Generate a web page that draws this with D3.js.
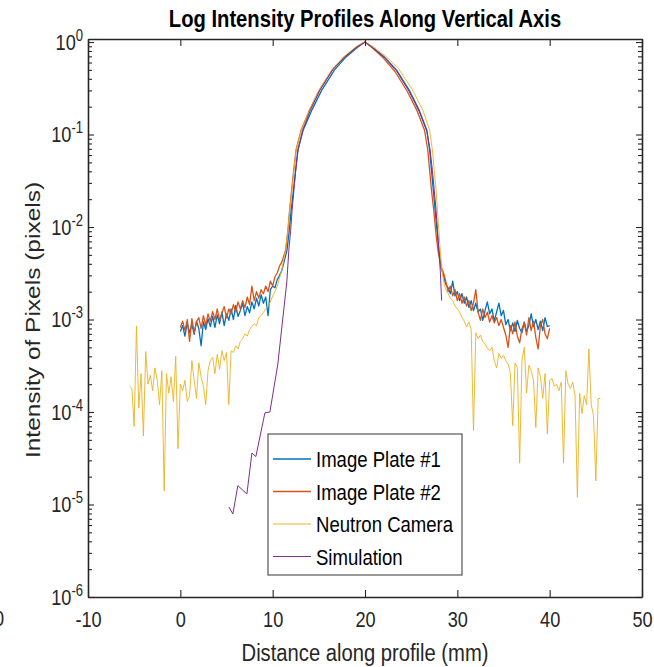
<!DOCTYPE html>
<html>
<head>
<meta charset="utf-8">
<script src="https://cdn.jsdelivr.net/npm/d3@7"></script>
<style>
  body { margin: 0; background: #fff; }
  svg { display: block; font-family: "Liberation Sans", Arial, sans-serif; }
</style>
</head>
<body>
<div id="chart"></div>
<script>
// ---- data ----
const seriesNames = ["Image Plate #1", "Image Plate #2", "Neutron Camera", "Simulation"];
const seriesColors = ["#0072BD", "#D95319", "#EDB120", "#7E2F8E"];

const xTicks = [-10, 0, 10, 20, 30, 40, 50];
const yMajor = [1e-6, 1e-5, 1e-4, 1e-3, 1e-2, 1e-1, 1];

// tails are sampled every 0.25 mm from their start
const tailStep = 0.25;
const ipLeftStart = 0, ipRightStart = 28.5;
const ncLeftStart = -5.5, ncRightStart = 28.5;

const ip1Left = [7.4e-4, 8.6e-4, 6.6e-4, 9.2e-4, 7.2e-4, 8.8e-4, 6.9e-4, 9.6e-4, 8.0e-4, 5.2e-4,
  9.4e-4, 7.8e-4, 1.02e-3, 8.4e-4, 1.08e-3, 8.2e-4, 1.12e-3, 9.0e-4, 1.2e-3, 8.6e-4,
  1.15e-3, 9.8e-4, 1.3e-3, 1.0e-3, 1.42e-3, 1.08e-3, 1.25e-3, 1.5e-3, 1.1e-3, 1.38e-3,
  1.18e-3, 1.55e-3, 1.3e-3, 1.7e-3, 1.4e-3, 1.85e-3, 1.5e-3, 1.75e-3, 1.1e-3, 2.1e-3,
  2.3e-3, 2.2e-3, 2.7e-3, 3.0e-3, 3.4e-3];
const ip1Peak = [[11.55, 5.6e-3], [11.8, 9.2e-3], [12.0, 0.015], [12.25, 0.025], [12.48, 0.041],
  [12.73, 0.068], [13.3, 0.111], [14.2, 0.18], [15.3, 0.30], [16.7, 0.50], [17.95, 0.69],
  [19.2, 0.88], [20.0, 1.0], [20.8, 0.88], [22.1, 0.69], [23.4, 0.50], [24.8, 0.30],
  [25.9, 0.18], [26.7, 0.111], [27.0, 0.068], [27.2, 0.041], [27.4, 0.025], [27.6, 0.015],
  [27.8, 9.2e-3], [28.0, 5.6e-3], [28.25, 3.6e-3]];
const ip1Right = [3.0e-3, 2.4e-3, 2.2e-3, 1.9e-3, 2.6e-3, 1.8e-3, 2.0e-3, 1.6e-3, 1.9e-3, 1.5e-3,
  1.75e-3, 1.35e-3, 1.6e-3, 1.25e-3, 1.5e-3, 1.2e-3, 1.3e-3, 9.8e-4, 1.25e-3, 1.55e-3,
  1.15e-3, 1.3e-3, 9.6e-4, 1.2e-3, 1.5e-3, 1.1e-3, 1.25e-3, 8.8e-4, 1.0e-3, 7.6e-4,
  9.2e-4, 7.4e-4, 9.8e-4, 8.0e-4, 7.2e-4, 9.4e-4, 7.4e-4, 8.6e-4, 1.15e-3, 8.4e-4,
  1.0e-3, 7.8e-4, 9.6e-4, 7.6e-4, 1.05e-3, 8.4e-4, 8.6e-4];

const ip2Left = [8.2e-4, 9.6e-4, 7.6e-4, 1.0e-3, 5.8e-4, 1.02e-3, 7.2e-4, 9.4e-4, 1.05e-3, 8.0e-4,
  1.1e-3, 8.6e-4, 1.15e-3, 9.6e-4, 1.22e-3, 1.0e-3, 1.3e-3, 9.8e-4, 1.18e-3, 1.38e-3,
  1.05e-3, 1.3e-3, 1.15e-3, 1.45e-3, 1.2e-3, 1.55e-3, 1.3e-3, 1.6e-3, 1.35e-3, 1.75e-3,
  1.45e-3, 2.3e-3, 1.6e-3, 2.0e-3, 1.7e-3, 2.1e-3, 1.9e-3, 2.3e-3, 2.0e-3, 2.6e-3,
  2.3e-3, 2.9e-3, 3.2e-3, 3.8e-3, 4.2e-3];
const ip2Peak = [[11.4, 5.6e-3], [11.65, 9.2e-3], [11.83, 0.015], [12.05, 0.025], [12.28, 0.041],
  [12.53, 0.068], [13.08, 0.111], [13.95, 0.18], [15.05, 0.30], [16.45, 0.50], [17.75, 0.69],
  [19.05, 0.88], [20.0, 1.0], [20.75, 0.87], [22.0, 0.67], [23.25, 0.48], [24.6, 0.29],
  [25.65, 0.18], [26.45, 0.111], [26.8, 0.068], [27.0, 0.041], [27.2, 0.025], [27.45, 0.015],
  [27.65, 9.2e-3], [27.9, 5.6e-3], [28.2, 3.8e-3]];
const ip2Right = [3.2e-3, 2.6e-3, 2.0e-3, 2.3e-3, 1.8e-3, 2.1e-3, 1.6e-3, 1.9e-3, 1.5e-3, 1.75e-3,
  1.4e-3, 1.6e-3, 1.25e-3, 1.5e-3, 2.1e-3, 1.2e-3, 9.8e-4, 1.3e-3, 1.05e-3, 1.2e-3,
  9.4e-4, 1.1e-3, 9.2e-4, 1.05e-3, 8.6e-4, 1.0e-3, 8.2e-4, 6.8e-4, 5.0e-4, 8.6e-4,
  7.0e-4, 9.4e-4, 6.6e-4, 5.6e-4, 8.0e-4, 9.2e-4, 6.8e-4, 1.05e-3, 7.6e-4, 9.6e-4,
  6.4e-4, 4.8e-4, 8.6e-4, 1.0e-3, 7.0e-4, 6.2e-4, 8.0e-4];

const ncLeft = [1.9e-4, 1.8e-4, 7.0e-5, 8.5e-4, 1.1e-4, 2.6e-4, 5.5e-5, 4.5e-4, 2.0e-4, 2.5e-4,
  1.7e-4, 3.0e-4, 2.2e-4, 1.2e-4, 2.8e-4, 1.4e-5, 2.6e-4, 1.6e-4, 2.4e-4, 1.3e-4,
  4.0e-4, 4.0e-5, 2.0e-4, 1.7e-4, 2.2e-4, 1.3e-4, 1.5e-4, 3.6e-4, 2.2e-4, 1.4e-4,
  3.4e-4, 2.4e-4, 1.9e-4, 1.2e-4, 2.8e-4, 3.6e-4, 3.9e-4, 2.6e-4, 4.2e-4, 2.9e-4,
  4.6e-4, 3.6e-4, 4.4e-4, 1.2e-4, 4.6e-4, 4.4e-4, 5.2e-4, 4.8e-4, 5.8e-4, 6.2e-4,
  7.0e-4, 6.6e-4, 7.8e-4, 8.4e-4, 9.0e-4, 8.6e-4, 1.05e-3, 1.1e-3, 1.2e-3, 1.3e-3,
  1.4e-3, 1.55e-3, 1.8e-3, 2.0e-3, 2.3e-3, 2.8e-3, 3.5e-3];
const ncPeak = [[11.4, 5.6e-3], [11.65, 9.2e-3], [11.84, 0.015], [12.08, 0.025], [12.3, 0.041],
  [12.55, 0.068], [13.1, 0.111], [13.95, 0.18], [15.0, 0.30], [16.4, 0.50], [17.7, 0.69],
  [19.0, 0.88], [19.9, 1.0], [20.8, 0.90], [22.2, 0.71], [23.6, 0.52], [25.1, 0.31],
  [26.3, 0.18], [27.0, 0.111], [27.3, 0.068], [27.5, 0.041], [27.7, 0.025], [27.85, 0.015],
  [28.0, 9.2e-3], [28.15, 5.6e-3], [28.35, 3.4e-3]];
const ncRight = [2.6e-3, 2.1e-3, 1.9e-3, 1.7e-3, 1.6e-3, 1.4e-3, 1.3e-3, 1.2e-3, 1.05e-3, 9.6e-4,
  8.3e-4, 9.4e-4, 7.8e-4, 6.3e-5, 7.2e-4, 6.2e-4, 6.8e-4, 5.8e-4, 5.4e-4, 4.9e-4,
  4.6e-4, 5.0e-4, 3.6e-4, 3.0e-4, 4.3e-4, 3.8e-4, 4.1e-4, 3.6e-4, 3.3e-4, 2.6e-4,
  7.1e-5, 3.4e-4, 3.0e-4, 2.8e-5, 3.6e-4, 5.0e-4, 1.6e-4, 3.2e-4, 2.8e-4, 2.2e-4,
  6.8e-5, 3.0e-4, 2.4e-4, 1.4e-4, 2.6e-4, 5.8e-5, 2.2e-4, 2.3e-4, 1.9e-4, 2.0e-4,
  1.7e-4, 2.1e-4, 2.8e-5, 2.8e-4, 2.0e-4, 1.8e-4, 2.1e-4, 1.5e-4, 1.2e-5, 1.6e-4,
  9.6e-5, 1.5e-4, 1.2e-4, 4.8e-4, 1.2e-4, 9.2e-5, 1.8e-5, 1.4e-4, 1.4e-4];

const simProfile = [[5.26, 9.4e-6], [5.69, 7.9e-6], [6.23, 1.6e-5], [7.21, 1.3e-5], [7.75, 3.6e-5],
  [8.18, 3.3e-5], [9.16, 9.8e-5], [9.70, 1.0e-4], [10.56, 3.3e-4], [11.54, 2.6e-3],
  [11.75, 5.6e-3], [11.95, 9.2e-3], [12.1, 0.015], [12.3, 0.025], [12.5, 0.041], [12.75, 0.068],
  [13.25, 0.111], [14.05, 0.18], [15.1, 0.30], [16.5, 0.50], [17.8, 0.69], [19.1, 0.88],
  [20.0, 1.0], [20.8, 0.87], [22.1, 0.68], [23.4, 0.49], [24.8, 0.29], [25.9, 0.175],
  [26.7, 0.108], [27.05, 0.068], [27.3, 0.041], [27.5, 0.025], [27.7, 0.015], [27.85, 9.2e-3],
  [28.0, 5.6e-3], [28.15, 3.4e-3], [28.3, 1.6e-3]];

// ---- layout ----
const width = 654, height = 667;
const margin = { top: 39, right: 12, bottom: 70, left: 88 };
const squeeze = "scale(0.825,1)"; // text in the picture is horizontally narrowed

const tail = (vals, start) => vals.map((v, i) => [start + i * tailStep, v]);
const series = [
  tail(ip1Left, ipLeftStart).concat(ip1Peak, tail(ip1Right, ipRightStart)),
  tail(ip2Left, ipLeftStart).concat(ip2Peak, tail(ip2Right, ipRightStart)),
  tail(ncLeft, ncLeftStart).concat(ncPeak, tail(ncRight, ncRightStart)),
  simProfile
];
const strokeW = [1.3, 1.3, 0.9, 1.0];

const x = d3.scaleLinear()
  .domain([-10, 50])
  .range([margin.left, width - margin.right]);

const y = d3.scaleLog()
  .domain([1e-6, 1.078])
  .range([height - margin.bottom, margin.top]);

const svg = d3.select("#chart")
  .append("svg")
  .attr("width", width)
  .attr("height", height);

svg.append("clipPath")
  .attr("id", "plotClip")
  .append("rect")
  .attr("x", margin.left)
  .attr("y", margin.top)
  .attr("width", width - margin.right - margin.left)
  .attr("height", height - margin.bottom - margin.top);

const line = d3.line()
  .x(d => x(d[0]))
  .y(d => y(d[1]));

svg.append("g")
  .attr("clip-path", "url(#plotClip)")
  .selectAll("path")
  .data(series)
  .join("path")
  .attr("d", line)
  .attr("fill", "none")
  .attr("stroke", (d, i) => seriesColors[i])
  .attr("stroke-width", (d, i) => strokeW[i])
  .attr("stroke-linejoin", "round");

// ---- axes (MATLAB style: box, ticks inward) ----
const axisColor = "#262626";
const minorTicks = y.ticks().filter(v => !yMajor.some(m => Math.abs(v / m - 1) < 1e-6));

const xBottom = svg.append("g")
  .attr("transform", `translate(0,${height - margin.bottom})`)
  .call(d3.axisBottom(x).tickValues(xTicks).tickSizeInner(-7).tickSizeOuter(0).tickPadding(14)
    .tickFormat(d => String(d)));

svg.append("g")
  .attr("transform", `translate(0,${margin.top})`)
  .call(d3.axisTop(x).tickValues(xTicks).tickSizeInner(-7).tickSizeOuter(0).tickFormat(() => ""));

const yLeft = svg.append("g")
  .attr("transform", `translate(${margin.left},0)`)
  .call(d3.axisLeft(y).tickValues(yMajor).tickSizeInner(-6).tickSizeOuter(0).tickPadding(6).tickFormat(() => ""));

svg.append("g")
  .attr("transform", `translate(${margin.left},0)`)
  .call(d3.axisLeft(y).tickValues(minorTicks).tickSizeInner(-4).tickSizeOuter(0).tickFormat(() => ""))
  .call(g => g.select(".domain").remove());

svg.append("g")
  .attr("transform", `translate(${width - margin.right},0)`)
  .call(d3.axisRight(y).tickValues(yMajor).tickSizeInner(-6).tickSizeOuter(0).tickFormat(() => ""));

svg.append("g")
  .attr("transform", `translate(${width - margin.right},0)`)
  .call(d3.axisRight(y).tickValues(minorTicks).tickSizeInner(-4).tickSizeOuter(0).tickFormat(() => ""))
  .call(g => g.select(".domain").remove());

svg.selectAll(".domain").attr("stroke", axisColor).attr("stroke-width", 1.6);
svg.selectAll(".tick line").attr("stroke", axisColor).attr("stroke-width", 1.1);

xBottom.selectAll(".tick text")
  .attr("font-size", 22)
  .attr("fill", axisColor)
  .attr("transform", squeeze);

yLeft.selectAll(".tick text")
  .attr("font-size", 22)
  .attr("fill", axisColor)
  .attr("transform", squeeze)
  .each(function (d) {
    const t = d3.select(this);
    t.append("tspan").text("10");
    t.append("tspan")
      .attr("dy", "-0.55em")
      .attr("font-size", "0.72em")
      .text(String(Math.round(Math.log10(d))));
  });

// ---- titles ----
svg.append("text")
  .attr("transform", `translate(${(margin.left + width - margin.right) / 2},27) ${squeeze}`)
  .attr("text-anchor", "middle")
  .attr("font-weight", "bold")
  .attr("font-size", 24.5)
  .attr("fill", "#000")
  .text("Log Intensity Profiles Along Vertical Axis");

svg.append("text")
  .attr("transform", `translate(${(margin.left + width - margin.right) / 2},661) ${squeeze}`)
  .attr("text-anchor", "middle")
  .attr("font-size", 24.5)
  .attr("fill", axisColor)
  .text("Distance along profile (mm)");

svg.append("text")
  .attr("transform", `translate(40,320) rotate(-90) scale(1,0.825)`)
  .attr("text-anchor", "middle")
  .attr("font-size", 24.5)
  .attr("fill", axisColor)
  .text("Intensity of Pixels (pixels)");

// label cut off at the left edge of the figure, as in the reference
svg.append("text")
  .attr("transform", `translate(4,626) ${squeeze}`)
  .attr("text-anchor", "end")
  .attr("font-size", 22)
  .attr("fill", axisColor)
  .text("0");

// ---- legend ----
const legend = svg.append("g").attr("transform", "translate(268,434)");
legend.append("rect")
  .attr("width", 194)
  .attr("height", 141)
  .attr("fill", "#fff")
  .attr("stroke", "#555")
  .attr("stroke-width", 1.2);

const rows = legend.selectAll("g.row")
  .data(seriesNames)
  .join("g")
  .attr("class", "row")
  .attr("transform", (d, i) => `translate(0,${25 + i * 32.5})`);

rows.append("line")
  .attr("x1", 5).attr("x2", 43)
  .attr("stroke", (d, i) => seriesColors[i])
  .attr("stroke-width", (d, i) => strokeW[i] + 0.2);

rows.append("text")
  .attr("transform", `translate(48,8) ${squeeze}`)
  .attr("font-size", 22.5)
  .attr("fill", "#000")
  .text(d => d);
</script>
</body>
</html>
